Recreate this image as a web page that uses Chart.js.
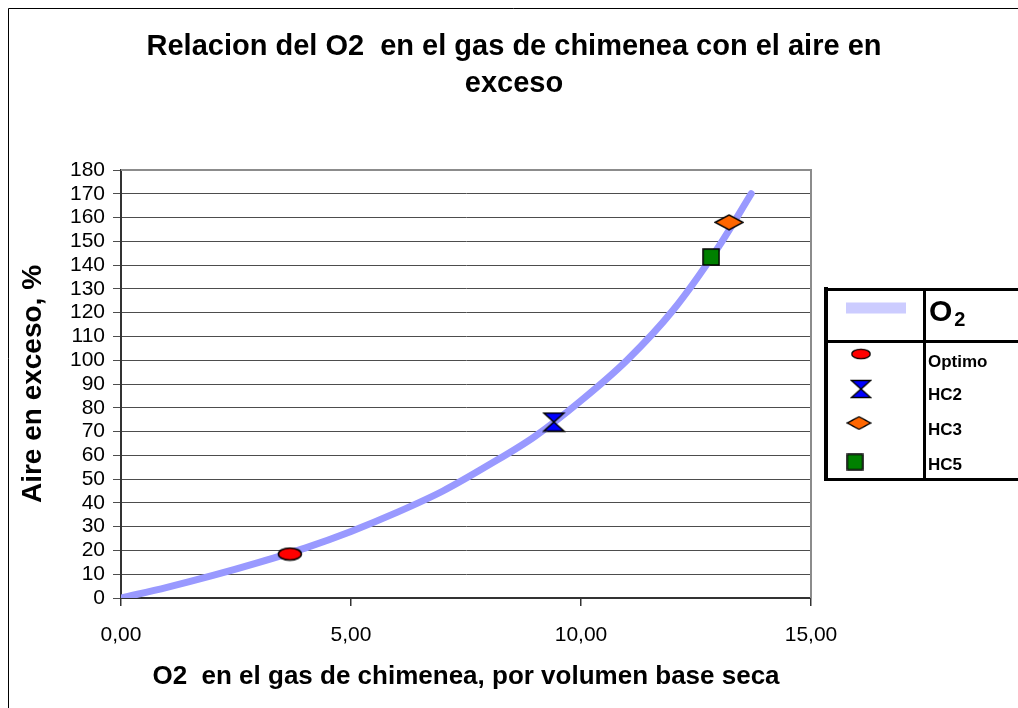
<!DOCTYPE html>
<html>
<head>
<meta charset="utf-8">
<script src="https://cdn.jsdelivr.net/npm/chart.js@4"></script>
<style>
  html, body { margin: 0; padding: 0; background: #fff; overflow: hidden; }
  canvas { display: block; }
</style>
</head>
<body>
<canvas id="grafico" width="1018" height="708"></canvas>
<script>
const FONT = "'Liberation Sans', Arial, Helvetica, sans-serif";

// Textos
const tituloLineas = ['Relacion del O2  en el gas de chimenea con el aire en', 'exceso'];
const tituloEjeX = 'O2  en el gas de chimenea, por volumen base seca';
const tituloEjeY = 'Aire en exceso, %';

// Marcas de los ejes
const xTicks = [0, 5, 10, 15];
const xTickLabels = ['0,00', '5,00', '10,00', '15,00'];
const yTicks = [0, 10, 20, 30, 40, 50, 60, 70, 80, 90, 100, 110, 120, 130, 140, 150, 160, 170, 180];

// Curva O2 vs aire en exceso
const curvaO2 = [0, 1, 2, 3, 4, 5, 6, 7, 8, 9, 10, 11, 12, 13, 13.7];
const curvaAire = [0, 4.5, 9.5, 15, 21, 28, 36, 45, 56, 68, 83, 100, 121, 148, 170];

// Puntos de operación
const puntosNombres = ['Optimo', 'HC2', 'HC3', 'HC5'];
const puntosO2 = [3.67, 9.41, 13.22, 12.83];
const puntosAire = [18.5, 74, 158, 143.4];
const puntosFormas = ['elipse', 'reloj', 'rombo', 'cuadro'];
const puntosColores = ['#FF0000', '#0000FF', '#FF6600', '#008000'];

// Dibujo de cada marcador en un lienzo pequeño
function crearMarcador(forma, color) {
  const c = document.createElement('canvas');
  const dims = { elipse: [26, 15], reloj: [24, 21], rombo: [30, 17], cuadro: [18, 18] }[forma];
  c.width = dims[0]; c.height = dims[1];
  const g = c.getContext('2d');
  g.fillStyle = color;
  g.strokeStyle = '#000';
  g.lineWidth = 1.5;
  g.lineJoin = 'miter';
  g.beginPath();
  if (forma === 'elipse') {
    g.ellipse(13, 7.5, 11.5, 6, 0, 0, Math.PI * 2);
  } else if (forma === 'reloj') {
    g.moveTo(2, 1.5); g.lineTo(22, 1.5); g.lineTo(12, 10.5); g.closePath();
    g.moveTo(12, 10.5); g.lineTo(22, 19.5); g.lineTo(2, 19.5); g.closePath();
  } else if (forma === 'rombo') {
    g.moveTo(1, 8.5); g.lineTo(15, 1); g.lineTo(29, 8.5); g.lineTo(15, 16); g.closePath();
  } else {
    g.rect(1, 1, 16, 16);
  }
  g.fill();
  g.stroke();
  return c;
}

const marcadores = puntosFormas.map((f, i) => crearMarcador(f, puntosColores[i]));

const datasets = puntosNombres.map((nombre, i) => ({
  label: nombre,
  type: 'scatter',
  data: [{ x: puntosO2[i], y: puntosAire[i] }],
  pointStyle: marcadores[i],
  pointRadius: 10,
  backgroundColor: puntosColores[i],
  borderColor: '#000',
  order: 0
}));

datasets.push({
  label: 'O2',
  type: 'line',
  data: curvaO2.map((x, i) => ({ x: x, y: curvaAire[i] })),
  borderColor: '#9999FF',
  borderWidth: 7,
  borderCapStyle: 'round',
  pointRadius: 0,
  cubicInterpolationMode: 'monotone',
  fill: false,
  clip: 0,
  order: 5
});

// Marco exterior, borde superior/derecho del área de trazado
const marcos = {
  id: 'marcos',
  beforeDraw(chart) {
    const ctx = chart.ctx;
    ctx.save();
    ctx.fillStyle = '#fff';
    ctx.fillRect(0, 0, chart.width, chart.height);
    ctx.strokeStyle = '#000';
    ctx.lineWidth = 1;
    ctx.beginPath();
    ctx.moveTo(8.5, chart.height + 2);
    ctx.lineTo(8.5, 8.5);
    ctx.lineTo(chart.width + 2, 8.5);
    ctx.stroke();
    ctx.restore();
  },
  beforeDatasetsDraw(chart) {
    const a = chart.chartArea;
    const ctx = chart.ctx;
    ctx.save();
    ctx.strokeStyle = '#8c8c8c';
    ctx.lineWidth = 2;
    ctx.beginPath();
    ctx.moveTo(a.left, a.top);
    ctx.lineTo(a.right, a.top);
    ctx.lineTo(a.right, a.bottom);
    ctx.stroke();
    ctx.restore();
  }
};

// Leyenda en forma de tabla
const leyendaTabla = {
  id: 'leyendaTabla',
  afterDraw(chart) {
    const ctx = chart.ctx;
    const W = chart.width + 4;
    ctx.save();
    ctx.strokeStyle = '#000';
    ctx.lineWidth = 4;
    ctx.beginPath(); ctx.moveTo(826, 287); ctx.lineTo(826, 481); ctx.stroke();
    ctx.lineWidth = 3;
    ctx.beginPath();
    ctx.moveTo(824, 289.5); ctx.lineTo(W, 289.5);
    ctx.moveTo(824, 341.5); ctx.lineTo(W, 341.5);
    ctx.moveTo(824, 479.5); ctx.lineTo(W, 479.5);
    ctx.moveTo(924.5, 288); ctx.lineTo(924.5, 481);
    ctx.stroke();

    // Serie de la curva
    const curva = chart.data.datasets[chart.data.datasets.length - 1];
    ctx.strokeStyle = '#CCCCFF';
    ctx.lineWidth = 11;
    ctx.beginPath(); ctx.moveTo(846, 308); ctx.lineTo(906, 308); ctx.stroke();
    ctx.fillStyle = '#000';
    ctx.textBaseline = 'alphabetic';
    ctx.textAlign = 'left';
    ctx.font = 'bold 30px ' + FONT;
    ctx.fillText(curva.label.charAt(0), 929, 321);
    const wO = ctx.measureText(curva.label.charAt(0)).width;
    ctx.font = 'bold 20px ' + FONT;
    ctx.fillText(curva.label.slice(1), 929 + wO + 2, 326);

    // Puntos
    const filasTexto = [362, 395, 430, 465];
    const filasMarca = [[861, 354], [861, 389], [859, 423], [855, 462]];
    ctx.font = 'bold 17px ' + FONT;
    ctx.textBaseline = 'middle';
    puntosNombres.forEach((nombre, i) => {
      const m = marcadores[i];
      const s = i === 0 ? 0.8 : (i === 2 ? 0.85 : 0.95);
      const w = m.width * s, h = m.height * s;
      ctx.drawImage(m, filasMarca[i][0] - w / 2, filasMarca[i][1] - h / 2, w, h);
      ctx.fillStyle = '#000';
      ctx.fillText(nombre, 928, filasTexto[i]);
    });
    ctx.restore();
  }
};

new Chart(document.getElementById('grafico'), {
  data: { datasets: datasets },
  options: {
    responsive: false,
    animation: false,
    events: [],
    layout: { padding: { left: 10, right: 0, top: 0, bottom: 0 } },
    plugins: {
      legend: { display: false },
      tooltip: { enabled: false },
      title: {
        display: true,
        text: tituloLineas,
        color: '#000',
        font: { family: FONT, size: 29, weight: 'bold', lineHeight: 1.276 },
        padding: { top: 28.5, bottom: 67.5 }
      }
    },
    scales: {
      x: {
        type: 'linear',
        min: 0,
        max: 15,
        afterBuildTicks: s => { s.ticks = xTicks.map(v => ({ value: v })); },
        afterFit: s => { s.height = 110; },
        ticks: {
          color: '#000',
          font: { family: FONT, size: 21 },
          padding: 17,
          maxRotation: 0,
          autoSkip: false,
          callback: v => xTickLabels[xTicks.indexOf(v)]
        },
        grid: { drawOnChartArea: false, drawTicks: true, tickLength: 8, color: '#333', lineWidth: 1.5 },
        border: { display: true, color: '#333', width: 2 },
        title: {
          display: true,
          text: tituloEjeX,
          color: '#000',
          font: { family: FONT, size: 26, weight: 'bold' },
          padding: { top: 0, bottom: 15.4 }
        }
      },
      y: {
        type: 'linear',
        min: 0,
        max: 180,
        afterBuildTicks: s => { s.ticks = yTicks.map(v => ({ value: v })); },
        afterFit: s => { s.width = 111; },
        ticks: {
          color: '#000',
          font: { family: FONT, size: 21 },
          padding: 8,
          autoSkip: false,
          callback: v => String(v)
        },
        grid: { drawTicks: true, tickLength: 8, color: '#4d4d4d', lineWidth: 1 },
        border: { display: true, color: '#333', width: 2 },
        title: {
          display: true,
          text: tituloEjeY,
          color: '#000',
          font: { family: FONT, size: 28, weight: 'bold' },
          padding: { top: 6.2, bottom: 0 }
        }
      },
      yDer: {
        type: 'linear',
        position: 'right',
        display: true,
        ticks: { display: false },
        grid: { display: false, drawTicks: false },
        border: { display: false },
        afterFit: s => { s.width = 207; }
      }
    }
  },
  plugins: [marcos, leyendaTabla]
});
</script>
</body>
</html>
